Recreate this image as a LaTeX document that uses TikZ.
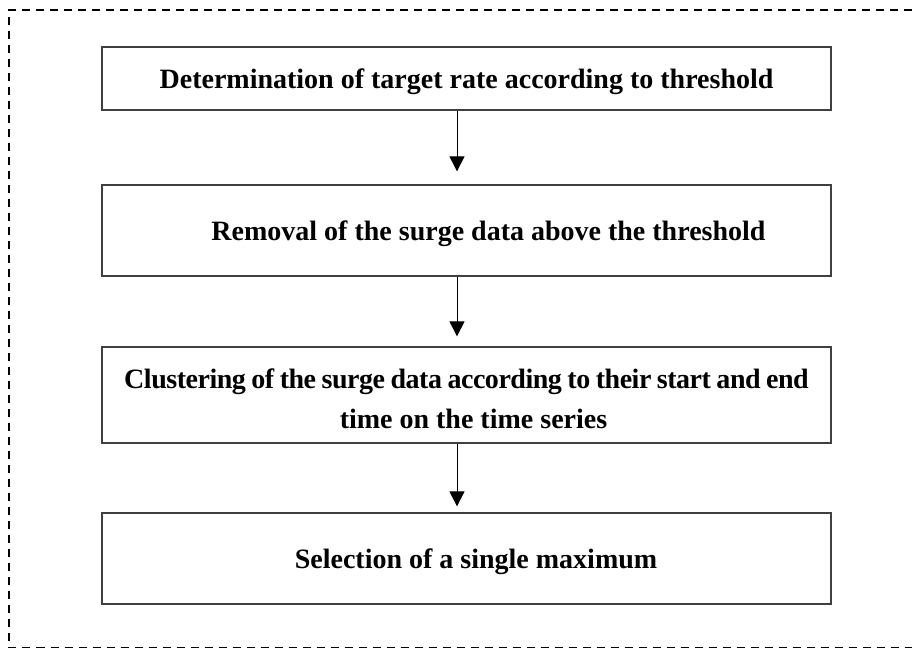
\documentclass[tikz,border=0pt]{standalone}
\usepackage{fontspec}
\setmainfont{Liberation Serif}
\newfontfamily\tightserif[LetterSpace=-1.7]{Liberation Serif}
\usetikzlibrary{arrows.meta}
\begin{document}
\begin{tikzpicture}[x=1pt,y=-1pt,
  stepbox/.style={draw=black!75, line width=1.3pt, rectangle, inner sep=0pt,
    minimum width=729pt, font=\fontsize{28}{40}\selectfont\bfseries, align=center},
  oneline/.style={text depth=0pt},
  flow/.style={line width=1pt, -{Triangle[width=15pt,length=15pt]}},
  frame/.style={line width=1.3pt, dash pattern=on 8pt off 6pt}]
\useasboundingbox (0,0) rectangle (912,649);
% dashed frame (open on the right)
\coordinate (fTR) at (912,10);
\coordinate (fTL) at (9,10);
\coordinate (fBL) at (9,647.5);
\coordinate (fBR) at (912,647.5);
\draw[frame] (fTR) -- (fTL) -- (fBL) -- (fBR);
% boxes
\node[stepbox, oneline, minimum height=63pt] (b1) at (466.5,78.5)
  {Determination of target rate according to threshold};
\node[stepbox, oneline, minimum height=91pt] (b2) at (466.5,230.5)
  {\hspace*{44pt}Removal of the surge data above the threshold};
\node[stepbox, minimum height=96pt] (b3) at (466.5,395)
  {\rule{0pt}{28pt}{\tightserif\bfseries\spaceskip=5.5pt Clustering of the surge data according to their start and end}\\\hspace*{14pt}time on the time series};
\node[stepbox, oneline, minimum height=91pt] (b4) at (466.5,558.5)
  {\hspace*{19pt}Selection of a single maximum};
% arrows
\coordinate (ax) at (457,0);
\draw[flow, shorten >=13pt] (b1.south -| ax) -- (b2.north -| ax);
\draw[flow, shorten >=10pt] (b2.south -| ax) -- (b3.north -| ax);
\draw[flow, shorten >=6pt] (b3.south -| ax) -- (b4.north -| ax);
\end{tikzpicture}
\end{document}
